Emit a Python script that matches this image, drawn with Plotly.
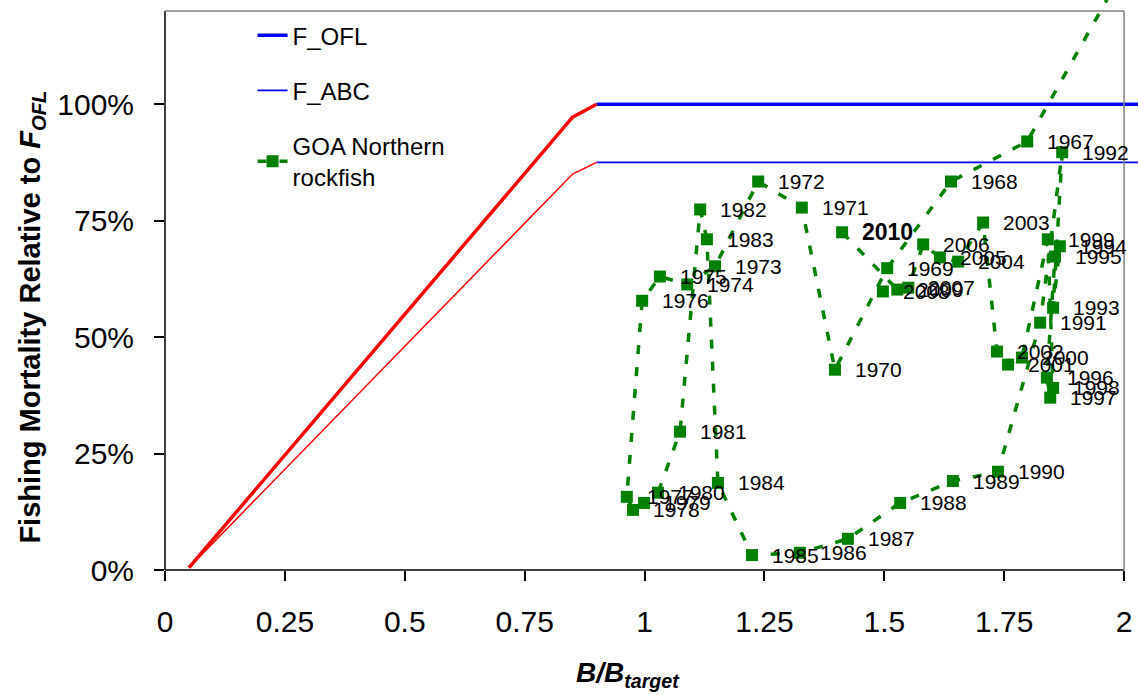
import plotly.graph_objects as go

# ---- harvest control rule (relative to F_OFL) ----
rule_b = [0.05, 0.85, 0.90]
rule_ofl = [0.005, 0.972, 1.000]
rule_abc = [0.005, 0.850, 0.875]

# constant F levels above the target biomass
flat_b = [0.90, 2.10]
f_ofl_level = [1.000, 1.000]
f_abc_level = [0.875, 0.875]

# ---- GOA Northern rockfish trajectory ----
years = [1966, 1967, 1968, 1969, 1970, 1971, 1972, 1973, 1974, 1975, 1976,
         1977, 1978, 1979, 1980, 1981, 1982, 1983, 1984, 1985, 1986, 1987,
         1988, 1989, 1990, 1991, 1992, 1993, 1994, 1995, 1996, 1997, 1998,
         1999, 2000, 2001, 2002, 2003, 2004, 2005, 2006, 2007, 2008, 2009,
         2010]
b_ratio = [2.060, 1.798, 1.639, 1.506, 1.397, 1.328, 1.237, 1.147, 1.089, 1.032, 0.995,
           0.963, 0.976, 0.999, 1.028, 1.074, 1.116, 1.130, 1.153, 1.224, 1.324, 1.424,
           1.533, 1.643, 1.737, 1.825, 1.871, 1.852, 1.866, 1.856, 1.839, 1.846, 1.852,
           1.841, 1.787, 1.758, 1.735, 1.706, 1.654, 1.616, 1.581, 1.550, 1.497, 1.527,
           1.412]
f_ratio = [1.400, 0.920, 0.834, 0.648, 0.430, 0.778, 0.834, 0.652, 0.613, 0.630, 0.578,
           0.157, 0.129, 0.144, 0.166, 0.297, 0.774, 0.710, 0.187, 0.032, 0.037, 0.067,
           0.144, 0.191, 0.211, 0.531, 0.897, 0.563, 0.695, 0.673, 0.413, 0.370, 0.391,
           0.710, 0.456, 0.441, 0.469, 0.746, 0.662, 0.671, 0.699, 0.606, 0.598, 0.602,
           0.725]

x_ticks = [0, 0.25, 0.5, 0.75, 1, 1.25, 1.5, 1.75, 2]
x_tick_text = ["0", "0.25", "0.5", "0.75", "1", "1.25", "1.5", "1.75", "2"]
y_ticks = [0, 0.25, 0.5, 0.75, 1.0]

X_RANGE = [0, 2.029]
Y_RANGE = [0, 1.2237]
FRAME_X = 2.0
FRAME_Y = 1.2

FONT = "Liberation Sans, Arial, sans-serif"
GREEN = "#008000"

fig = go.Figure()

fig.add_trace(go.Scatter(x=flat_b, y=f_ofl_level, mode="lines", name="F_OFL",
                         line=dict(color="#0000FF", width=3.5),
                         legendgroup="ofl"))
fig.add_trace(go.Scatter(x=flat_b, y=f_abc_level, mode="lines", name="F_ABC",
                         line=dict(color="#0000FF", width=1.8),
                         legendgroup="abc"))
fig.add_trace(go.Scatter(x=rule_b, y=rule_ofl, mode="lines", showlegend=False,
                         line=dict(color="#FF0000", width=3.5)))
fig.add_trace(go.Scatter(x=rule_b, y=rule_abc, mode="lines", showlegend=False,
                         line=dict(color="#FF0000", width=1.5)))
fig.add_trace(go.Scatter(x=b_ratio, y=f_ratio, mode="lines+markers",
                         name="GOA Northern<br>rockfish", legendgroup="goa",
                         line=dict(color=GREEN, width=3.5, dash="9px,13px"),
                         marker=dict(symbol="square", size=12, color=GREEN),
                         cliponaxis=False))

# year labels to the right of each point
for yr, bx, fy in zip(years, b_ratio, f_ratio):
    if not (X_RANGE[0] <= bx <= X_RANGE[1] and Y_RANGE[0] <= fy <= Y_RANGE[1]):
        continue
    last = yr == years[-1]
    fig.add_annotation(x=bx, y=fy, xref="x", yref="y", showarrow=False,
                       text=f"<b>{yr}</b>" if last else str(yr),
                       xanchor="left", yanchor="middle", xshift=18,
                       font=dict(family=FONT, size=23 if last else 21, color="black"))


def xd(v):
    return (v - X_RANGE[0]) / (X_RANGE[1] - X_RANGE[0])


def yd(v):
    return (v - Y_RANGE[0]) / (Y_RANGE[1] - Y_RANGE[0])


# plot frame: black axes on left/bottom, grey border on top/right
frame = [
    (xd(0), yd(0), xd(0), yd(FRAME_Y), "black"),
    (xd(0), yd(0), xd(FRAME_X), yd(0), "black"),
    (xd(0), yd(FRAME_Y), xd(FRAME_X), yd(FRAME_Y), "#808080"),
    (xd(FRAME_X), yd(0), xd(FRAME_X), yd(FRAME_Y), "#808080"),
]
for x0, y0, x1, y1, col in frame:
    fig.add_shape(type="line", xref="x domain", yref="y domain",
                  x0=x0, y0=y0, x1=x1, y1=y1, layer="above",
                  line=dict(color=col, width=1.5))

# axis titles
fig.add_annotation(xref="paper", yref="paper", x=-0.137, y=0.444,
                   text="<b>Fishing Mortality Relative to <i>F</i><sub><i>OFL</i></sub></b>",
                   textangle=-90, showarrow=False, xanchor="center", yanchor="middle",
                   font=dict(family=FONT, size=29, color="black"))
fig.add_annotation(xref="paper", yref="paper", x=0.476, y=-0.183,
                   text="<b><i>B/B</i></b><sub><b><i>target</i></b></sub>",
                   showarrow=False, xanchor="center", yanchor="middle",
                   font=dict(family=FONT, size=28, color="black"))

fig.update_layout(
    width=1138, height=695, autosize=False,
    margin=dict(l=165, r=0, t=0, b=125, pad=0),
    paper_bgcolor="white", plot_bgcolor="white",
    font=dict(family=FONT, color="black"),
    showlegend=True,
    legend=dict(x=0.09, y=0.977, xanchor="left", yanchor="top",
                bgcolor="rgba(0,0,0,0)", traceorder="grouped", tracegroupgap=21,
                font=dict(family=FONT, size=24, color="black")),
)
fig.update_xaxes(range=X_RANGE, tickvals=x_ticks, ticktext=x_tick_text,
                 ticks="outside", ticklen=10, tickwidth=1.5, tickcolor="black",
                 showline=False, showgrid=False, zeroline=False,
                 ticklabelstandoff=15,
                 tickfont=dict(family=FONT, size=30, color="black"))
fig.update_yaxes(range=Y_RANGE, tickvals=y_ticks, tickformat=".0%",
                 ticks="outside", ticklen=10, tickwidth=1.5, tickcolor="black",
                 showline=False, showgrid=False, zeroline=False,
                 ticklabelstandoff=14,
                 tickfont=dict(family=FONT, size=30, color="black"))

fig.write_html("out.html")
